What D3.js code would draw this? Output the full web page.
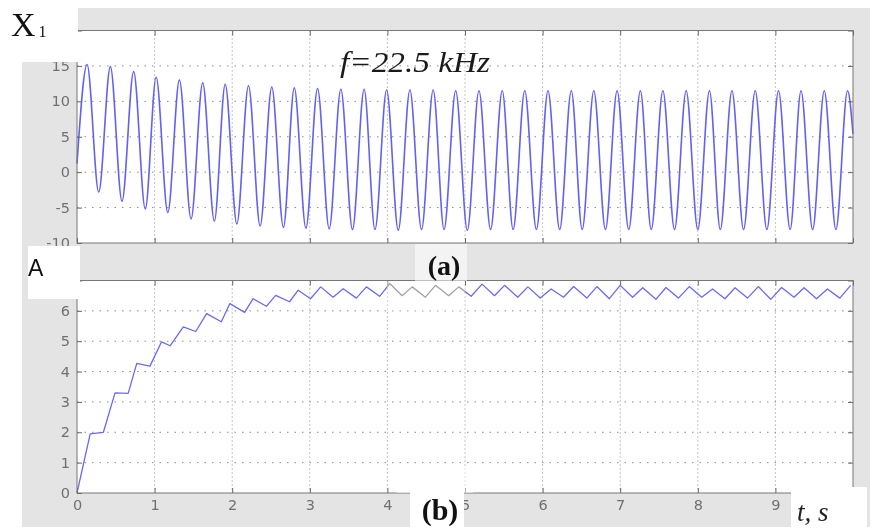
<!DOCTYPE html>
<html>
<head>
<meta charset="utf-8">
<script src="https://cdn.jsdelivr.net/npm/d3@7"></script>
<style>
body { margin: 0; background: #fff; }
svg { display: block; }
.tick text { font-family: "DejaVu Sans", Arial, sans-serif; font-size: 14.5px; fill: #707070; }
</style>
</head>
<body>
<svg id="chart" width="875" height="530"></svg>
<script>
// x1 oscillation: peak / trough times (s) and values
var x1Start = [0, 1.2];
var x1End = [10, 5.4];
var x1PeakT = [0.13, 0.43, 0.73, 1.02, 1.32, 1.62, 1.91, 2.21, 2.51, 2.80, 3.10, 3.40, 3.70, 3.99,
    4.29, 4.59, 4.88, 5.18, 5.48, 5.77, 6.07, 6.37, 6.66, 6.96, 7.26, 7.55, 7.85, 8.15, 8.44, 8.74,
    9.04, 9.33, 9.63, 9.93];
var x1PeakV = [15.2, 14.9, 14.2, 13.4, 13.0, 12.6, 12.4, 12.2, 12.0, 11.9, 11.8, 11.7, 11.7, 11.6,
    11.6, 11.6, 11.5, 11.5, 11.5, 11.5, 11.5, 11.5, 11.5, 11.5, 11.5, 11.5, 11.5, 11.5, 11.5, 11.5,
    11.5, 11.5, 11.5, 11.5];
var x1TroughT = [0.28, 0.58, 0.88, 1.17, 1.47, 1.77, 2.06, 2.36, 2.66, 2.95, 3.25, 3.55, 3.84, 4.14,
    4.44, 4.73, 5.03, 5.33, 5.62, 5.92, 6.22, 6.51, 6.81, 7.11, 7.40, 7.70, 8.00, 8.29, 8.59, 8.89,
    9.19, 9.48, 9.78];
var x1TroughV = [-2.8, -4.1, -5.2, -5.7, -6.6, -6.9, -7.3, -7.6, -7.8, -7.9, -8.0, -8.1, -8.1, -8.2,
    -8.1, -8.1, -8.2, -8.1, -8.1, -8.1, -8.1, -8.1, -8.1, -8.1, -8.1, -8.1, -8.1, -8.1, -8.1, -8.1,
    -8.1, -8.1, -8.1];

// amplitude A: local maxima / minima
var aStart = [0, 0];
var aMaxT = [0.17, 0.49, 0.77, 1.09, 1.37, 1.67, 1.97, 2.27, 2.56, 2.85, 3.14, 3.43, 3.73, 4.03,
    4.32, 4.62, 4.92, 5.22, 5.51, 5.81, 6.11, 6.40, 6.70, 7.00, 7.29, 7.59, 7.89, 8.19, 8.48, 8.78,
    9.08, 9.37, 9.67, 9.97];
var aMaxV = [1.95, 3.3, 4.27, 4.98, 5.47, 5.91, 6.24, 6.40, 6.51, 6.68, 6.79, 6.73, 6.79, 6.90,
    6.79, 6.84, 6.79, 6.88, 6.84, 6.79, 6.72, 6.80, 6.80, 6.84, 6.76, 6.77, 6.80, 6.72, 6.76, 6.80,
    6.77, 6.76, 6.72, 6.84];
var aMinT = [0.34, 0.66, 0.94, 1.20, 1.53, 1.86, 2.16, 2.44, 2.74, 3.01, 3.30, 3.60, 3.90, 4.19,
    4.49, 4.79, 5.08, 5.38, 5.68, 5.97, 6.27, 6.57, 6.86, 7.16, 7.46, 7.75, 8.05, 8.35, 8.64, 8.94,
    9.24, 9.53, 9.83];
var aMinV = [2.0, 3.28, 4.18, 4.85, 5.32, 5.64, 5.95, 6.15, 6.30, 6.40, 6.45, 6.42, 6.48, 6.50,
    6.45, 6.50, 6.48, 6.50, 6.45, 6.42, 6.45, 6.42, 6.40, 6.45, 6.38, 6.42, 6.45, 6.40, 6.42, 6.38,
    6.45, 6.40, 6.42];

var xTicks = [0, 1, 2, 3, 4, 5, 6, 7, 8, 9, 10];
var xLabels = [0, 1, 2, 3, 4, 5, 6, 7, 8, 9];
var topYTicks = [-10, -5, 0, 5, 10, 15, 20];
var topYLabels = [-10, -5, 0, 5, 10, 15];
var botYTicks = [0, 1, 2, 3, 4, 5, 6, 7];
var botYLabels = [0, 1, 2, 3, 4, 5, 6];

var svg = d3.select("#chart");
var GRAY = "#e4e4e4";
var SERIF = "'Liberation Serif', 'Times New Roman', serif";

function merge(t1, v1, t2, v2, first, last) {
    var pts = [];
    if (first) pts.push({t: first[0], v: first[1]});
    t1.forEach(function (t, i) { pts.push({t: t, v: v1[i]}); });
    t2.forEach(function (t, i) { pts.push({t: t, v: v2[i]}); });
    if (last) pts.push({t: last[0], v: last[1]});
    return pts.sort(function (a, b) { return a.t - b.t; });
}

var x = d3.scaleLinear().domain([0, 10]).range([77, 853]);
var yTop = d3.scaleLinear().domain([-10, 20]).range([243, 30.5]);
var yBot = d3.scaleLinear().domain([0, 7]).range([493, 280.5]);

// figure background
svg.append("rect").attr("x", 22).attr("y", 8).attr("width", 848).attr("height", 245).attr("fill", GRAY);

function drawPanel(y, yTicks, yLabels, pts, curve, stroke, width, showX) {
    var g = svg.append("g");
    var x0 = x.range()[0], x1 = x.range()[1];
    var yb = y.range()[0], yt = y.range()[1];

    g.append("rect").attr("x", x0).attr("y", yt).attr("width", x1 - x0).attr("height", yb - yt)
        .attr("fill", "#fff");

    // dotted grid
    g.append("g").selectAll("line")
        .data(xTicks.slice(1, -1))
        .enter().append("line")
        .attr("x1", function (d) { return x(d); }).attr("x2", function (d) { return x(d); })
        .attr("y1", yt).attr("y2", yb)
        .attr("stroke", "#8a8a8a").attr("stroke-width", 1).attr("stroke-dasharray", "1,3");
    g.append("g").selectAll("line")
        .data(yTicks.slice(1, -1))
        .enter().append("line")
        .attr("y1", function (d) { return y(d); }).attr("y2", function (d) { return y(d); })
        .attr("x1", x0).attr("x2", x1)
        .attr("stroke", "#8a8a8a").attr("stroke-width", 1).attr("stroke-dasharray", "1.5,6");

    var line = d3.line()
        .x(function (d) { return x(d.t); })
        .y(function (d) { return y(d.v); })
        .curve(curve);
    g.append("path").datum(pts)
        .attr("d", line)
        .attr("fill", "none")
        .attr("stroke", stroke)
        .attr("stroke-width", width)
        .attr("stroke-linejoin", "round");

    // axes with inward ticks
    g.append("g").attr("transform", "translate(" + x0 + ",0)")
        .call(d3.axisLeft(y).tickValues(yTicks).tickSizeInner(-5).tickSizeOuter(0).tickPadding(7)
            .tickFormat(function (d) { return yLabels.indexOf(d) >= 0 ? d : ""; }));
    g.append("g").attr("transform", "translate(" + x1 + ",0)")
        .call(d3.axisRight(y).tickValues(yTicks).tickSizeInner(-5).tickSizeOuter(0).tickFormat(""));
    g.append("g").attr("transform", "translate(0," + yt + ")")
        .call(d3.axisTop(x).tickValues(xTicks).tickSizeInner(-5).tickSizeOuter(0).tickFormat(""));
    g.append("g").attr("transform", "translate(0," + yb + ")")
        .call(d3.axisBottom(x).tickValues(xTicks).tickSizeInner(-5).tickSizeOuter(0).tickPadding(7)
            .tickFormat(function (d) { return showX && xLabels.indexOf(d) >= 0 ? d : ""; }));
    g.selectAll(".domain").remove();
    g.selectAll(".tick line").attr("stroke", "#666");

    g.append("rect").attr("x", x0).attr("y", yt).attr("width", x1 - x0).attr("height", yb - yt)
        .attr("fill", "none").attr("stroke", "#777").attr("stroke-width", 1);
    return g;
}

drawPanel(yTop, topYTicks, topYLabels, merge(x1PeakT, x1PeakV, x1TroughT, x1TroughV, x1Start, x1End),
    d3.curveMonotoneX, "#6262f2", 1.6, false);

svg.append("rect").attr("x", 22).attr("y", 247).attr("width", 848).attr("height", 280).attr("fill", GRAY);
drawPanel(yBot, botYTicks, botYLabels, merge(aMaxT, aMaxV, aMinT, aMinV, aStart, null),
    d3.curveLinear, "#6a6af2", 1.3, true);

// cut-outs from the pasted figures
svg.append("rect").attr("x", 0).attr("y", 0).attr("width", 78).attr("height", 62).attr("fill", "#fff");
svg.append("rect").attr("x", 28).attr("y", 246).attr("width", 52).attr("height", 53).attr("fill", "#fff");
svg.append("rect").attr("x", 387).attr("y", 281).attr("width", 78).attr("height", 30)
    .attr("fill", "#888").style("mix-blend-mode", "saturation");
svg.append("rect").attr("x", 387).attr("y", 281).attr("width", 78).attr("height", 30)
    .attr("fill", "#fff").attr("opacity", 0.3);
svg.append("rect").attr("x", 415).attr("y", 244).attr("width", 52).attr("height", 37)
    .attr("fill", "#fff").attr("opacity", 0.55);
svg.append("rect").attr("x", 397).attr("y", 468).attr("width", 76).attr("height", 25)
    .attr("fill", "#fff").attr("opacity", 0.5);
svg.append("rect").attr("x", 410).attr("y", 485).attr("width", 54).attr("height", 45).attr("fill", "#fff");
svg.append("rect").attr("x", 791).attr("y", 487).attr("width", 76).attr("height", 43).attr("fill", "#fff");

// labels
var xl = svg.append("text").attr("x", 11).attr("y", 36)
    .style("font-family", SERIF).style("font-size", "34px")
    .attr("fill", "#111").text("X");
xl.append("tspan").attr("dx", 3).attr("dy", 1).style("font-size", "16px").text("1");

svg.append("text").attr("x", 28).attr("y", 276)
    .style("font-family", "'Liberation Sans', Arial, sans-serif").style("font-size", "23px")
    .attr("fill", "#111").text("A");

svg.append("text").attr("x", 340).attr("y", 72)
    .attr("textLength", 150).attr("lengthAdjust", "spacingAndGlyphs")
    .style("font-family", SERIF).style("font-size", "29px")
    .style("font-style", "italic").attr("fill", "#1a1a1a").text("f=22.5 kHz");

svg.append("text").attr("x", 444).attr("y", 275).attr("text-anchor", "middle")
    .style("font-family", SERIF).style("font-size", "28px")
    .style("font-weight", "bold").attr("fill", "#111").text("(a)");

svg.append("text").attr("x", 440).attr("y", 520).attr("text-anchor", "middle")
    .style("font-family", SERIF).style("font-size", "30px")
    .style("font-weight", "bold").attr("fill", "#111").text("(b)");

svg.append("text").attr("x", 797).attr("y", 521)
    .style("font-family", SERIF).style("font-size", "27px")
    .style("font-style", "italic").attr("fill", "#222").text("t, s");
</script>
</body>
</html>
